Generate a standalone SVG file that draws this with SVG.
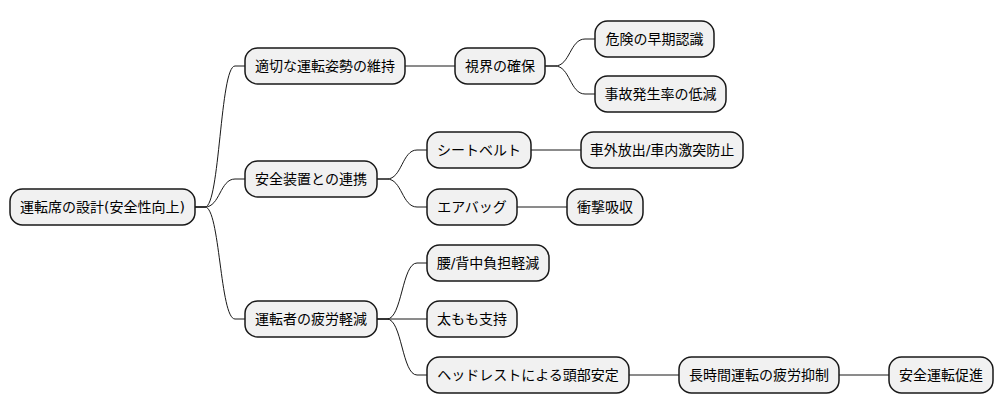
<svg xmlns="http://www.w3.org/2000/svg" width="1003" height="415" viewBox="0 0 1003 415">
<style>
.n rect{fill:#F1F1F1;stroke:#181818;stroke-width:1.5}
.n text{font-family:"DejaVu Sans","Noto Sans CJK JP",sans-serif;font-size:14px;fill:#000000;text-anchor:middle}
.c path{fill:none;stroke:#181818;stroke-width:1}
</style>
<rect width="1003" height="415" fill="#FFFFFF"/>
<g class="c" id="connectors">
<path d="M195,207 L205,207 C220,207 220,66 235,66 L245,66"/>
<path d="M195,207 L205,207 C220,207 220,179 235,179 L245,179"/>
<path d="M195,207 L205,207 C220,207 220,319 235,319 L245,319"/>
<path d="M405,66 L455,66"/>
<path d="M545,66 L555,66 C570,66 570,39 585,39 L595,39"/>
<path d="M545,66 L555,66 C570,66 570,94 585,94 L595,94"/>
<path d="M377,179 L387,179 C402,179 402,150 417,150 L427,150"/>
<path d="M377,179 L387,179 C402,179 402,207 417,207 L427,207"/>
<path d="M531,150 L581,150"/>
<path d="M517,207 L567,207"/>
<path d="M377,319 L387,319 C402,319 402,263 417,263 L427,263"/>
<path d="M377,319 L427,319"/>
<path d="M377,319 L387,319 C402,319 402,375 417,375 L427,375"/>
<path d="M629,375 L679,375"/>
<path d="M839,375 L889,375"/>
</g>
<g class="n" id="root"><rect x="10" y="189" width="185" height="36" rx="12.5"/><text x="102.5" y="212">運転席の設計(安全性向上)</text></g>
<g class="n" id="n-a"><rect x="245" y="48" width="160" height="36" rx="12.5"/><text x="325" y="71">適切な運転姿勢の維持</text></g>
<g class="n" id="n-b"><rect x="245" y="161" width="132" height="36" rx="12.5"/><text x="311" y="184">安全装置との連携</text></g>
<g class="n" id="n-c"><rect x="245" y="301" width="132" height="36" rx="12.5"/><text x="311" y="324">運転者の疲労軽減</text></g>
<g class="n" id="n-a1"><rect x="455" y="48" width="90" height="36" rx="12.5"/><text x="500" y="71">視界の確保</text></g>
<g class="n" id="n-a1a"><rect x="595" y="21" width="119" height="36" rx="12.5"/><text x="654.5" y="44">危険の早期認識</text></g>
<g class="n" id="n-a1b"><rect x="595" y="76" width="131" height="36" rx="12.5"/><text x="660.5" y="99">事故発生率の低減</text></g>
<g class="n" id="n-b1"><rect x="427" y="132" width="104" height="36" rx="12.5"/><text x="479" y="155">シートベルト</text></g>
<g class="n" id="n-b1a"><rect x="581" y="132" width="162" height="36" rx="12.5"/><text x="662" y="155">車外放出/車内激突防止</text></g>
<g class="n" id="n-b2"><rect x="427" y="189" width="90" height="36" rx="12.5"/><text x="472" y="212">エアバッグ</text></g>
<g class="n" id="n-b2a"><rect x="567" y="189" width="76" height="36" rx="12.5"/><text x="605" y="212">衝撃吸収</text></g>
<g class="n" id="n-c1"><rect x="427" y="245" width="122" height="36" rx="12.5"/><text x="488" y="268">腰/背中負担軽減</text></g>
<g class="n" id="n-c2"><rect x="427" y="301" width="90" height="36" rx="12.5"/><text x="472" y="324">太もも支持</text></g>
<g class="n" id="n-c3"><rect x="427" y="357" width="202" height="36" rx="12.5"/><text x="528" y="380">ヘッドレストによる頭部安定</text></g>
<g class="n" id="n-c3a"><rect x="679" y="357" width="160" height="36" rx="12.5"/><text x="759" y="380">長時間運転の疲労抑制</text></g>
<g class="n" id="n-c3b"><rect x="889" y="357" width="104" height="36" rx="12.5"/><text x="941" y="380">安全運転促進</text></g>
</svg>
